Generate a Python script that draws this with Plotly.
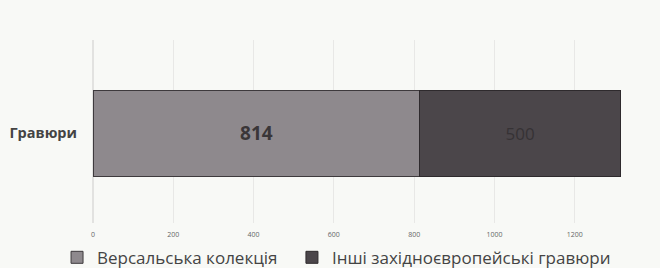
import plotly.graph_objects as go

categories = ["Гравюри"]
series_names = ["Версальська колекція", "Інші західноєвропейські гравюри"]
versailles = [814]
others = [500]
tick_vals = [0, 200, 400, 600, 800, 1000, 1200, 1400]

fig = go.Figure()
fig.add_trace(go.Bar(
    y=categories, x=versailles, name=series_names[0], orientation="h",
    marker=dict(color="#8e898d", line=dict(color="#3e3a3d", width=1)),
    text=[str(v) for v in versailles], textposition="inside", insidetextanchor="middle",
    textfont=dict(family="Open Sans", size=19, color="#3a3638", weight="bold"),
    width=0.47, legend="legend",
))
fig.add_trace(go.Bar(
    y=categories, x=others, name=series_names[1], orientation="h",
    marker=dict(color="#4b464a", line=dict(color="#2e2a2d", width=1)),
    text=[str(v) for v in others], textposition="inside", insidetextanchor="middle",
    textfont=dict(family="Open Sans", size=17, color="#363235"),
    width=0.47, legend="legend2",
))

legend_common = dict(
    orientation="h", xref="paper", yref="paper",
    y=-0.19, xanchor="left", yanchor="middle",
    font=dict(family="Open Sans", size=17, color="#444444"),
    itemwidth=30, bgcolor="rgba(0,0,0,0)",
)

fig.update_layout(
    barmode="stack",
    width=660, height=268,
    margin=dict(l=93, r=5, t=40, b=45, autoexpand=False),
    paper_bgcolor="#f8f9f6",
    plot_bgcolor="#f8f9f6",
    showlegend=True,
    legend=dict(x=-0.064, **legend_common),
    legend2=dict(x=0.354, **legend_common),
    xaxis=dict(
        range=[0, 1400], tickvals=tick_vals, automargin=False,
        showgrid=True, gridcolor="#e8e8e6", gridwidth=1,
        zeroline=True, zerolinecolor="#e2e2e0",
        tickfont=dict(family="Open Sans", size=7, color="#666666"),
        showline=False, ticks="", ticklabelstandoff=6,
    ),
    yaxis=dict(
        range=[-0.49, 0.51],
        showgrid=False, zeroline=False, showline=False, automargin=False,
        tickfont=dict(family="Open Sans", size=14.5, color="#444444", weight="bold"),
        ticks="", ticklabelstandoff=15,
    ),
)

fig.write_html(
    "out.html",
    config={"displayModeBar": False},
    post_script="document.body.style.margin='0';document.body.style.background='#f8f9f6';",
)
